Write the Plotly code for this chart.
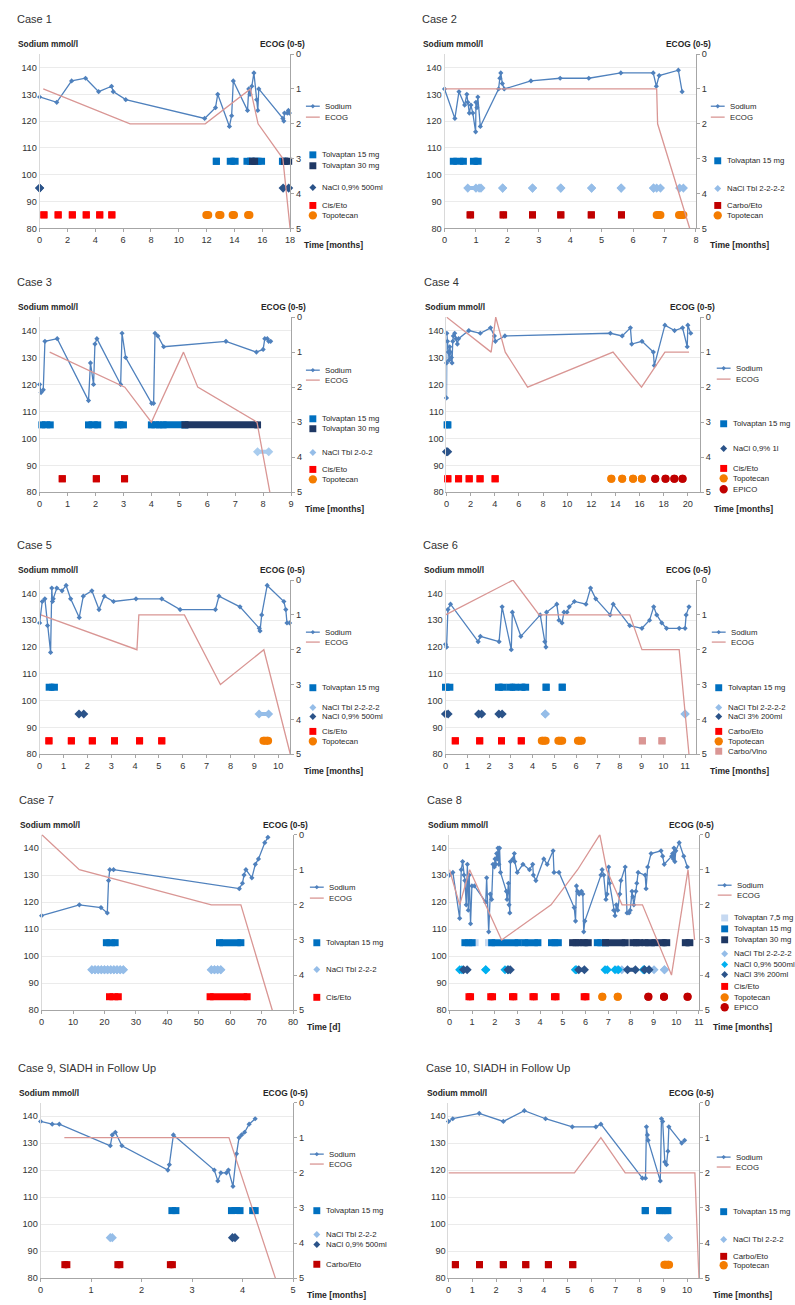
import plotly.graph_objects as go

W, H = 795, 1305
NFONT = "Liberation Sans, Arial, sans-serif"
TFONT = "Liberation Sans, Arial, sans-serif"

SOD = "#4F81BD"
ECO = "#D99694"
T15 = "#0070C0"
T30 = "#1F3864"
T75 = "#C6D9F1"
NTBL = "#95BDE8"
NDARK = "#2B5389"
N09C = "#00B0F0"
CIS = "#FF0000"
CARBO = "#C00000"
TOPO = "#F47C00"
EPICO = "#C00000"
VINO = "#DA9694"

# ---------------- Case 1 ----------------
c1_t = [0, 1.23, 2.3, 3.3, 4.24, 5.17, 5.29, 6.19, 11.86, 12.64, 12.8, 13.64, 13.8, 13.92, 14.94, 15.03, 15.12,
        15.25, 15.4, 15.6, 15.68, 15.75, 17.48, 17.55, 17.6, 17.8, 17.88, 17.95]
c1_na = [129, 127, 135, 136, 131, 133, 131, 128, 121, 125, 130, 118, 122, 135, 124, 132, 130,
         133, 138, 128, 124, 132, 121, 120, 123, 123, 124, 123]
c1_et = [0.26, 6.5, 11.9, 15.15, 15.7, 17.48, 18.0]
c1_ecog = [1, 2, 2, 1, 2, 3, 5]
c1_tolv15 = [(12.7, 12.7), (13.7, 14.05), (14.9, 15.2), (15.55, 15.95), (17.45, 17.5)]
c1_tolv30 = [(15.3, 15.45), (17.6, 17.9)]
c1_nacl09 = [(0, 0), (17.5, 17.9)]
c1_ciseto = [(0.31, 0.31), (1.33, 1.33), (2.35, 2.35), (3.35, 3.35), (4.32, 4.32), (5.19, 5.19)]
c1_topo = [(11.98, 12.12), (12.9, 13.0), (13.87, 13.97), (14.98, 15.08)]

# ---------------- Case 2 ----------------
c2_t = [0, 0.33, 0.46, 0.64, 0.71, 0.74, 0.79, 0.84, 0.9, 0.99, 1.0, 1.03, 1.06, 1.14, 1.72, 1.76, 1.79, 1.84,
        1.9, 2.75, 3.68, 4.59, 5.61, 6.64, 6.74, 6.83, 7.44, 7.56]
c2_na = [132, 121, 131, 126, 130, 127, 123, 126, 123, 116, 127, 125, 129, 118, 132, 136, 138, 134,
         132, 135, 136, 136, 138, 138, 133, 137, 139, 131]
c2_et = [0, 6.75, 6.78, 7.8]
c2_ecog = [1, 1, 2, 5]
c2_tolv15 = [(0.28, 0.6), (0.92, 1.07)]
c2_nacltbl = [(0.74, 1.0), (1.1, 1.16), (1.85, 1.85), (2.8, 2.8), (3.7, 3.7), (4.68, 4.68), (5.62, 5.62),
              (6.65, 6.65), (6.75, 6.87), (7.48, 7.6)]
c2_carboeto = [(0.81, 0.83), (1.86, 1.88), (2.8, 2.8), (3.7, 3.7), (4.67, 4.67), (5.63, 5.63)]
c2_topo = [(6.75, 6.87), (7.46, 7.6)]

# ---------------- Case 3 ----------------
c3_t = [0, 0.05, 0.13, 0.19, 0.63, 1.75, 1.82, 1.93, 1.98, 2.05, 2.9, 2.95, 3.08, 4.01, 4.08, 4.13, 4.23, 4.44,
        6.67, 7.76, 8.0, 8.06, 8.15, 8.2, 8.27]
c3_na = [120, 117, 118, 136, 137, 114, 128, 120, 135, 137, 120, 139, 130, 113, 113, 139, 138, 134,
         136, 132, 133, 137, 137, 136, 136]
c3_et = [0.36, 3.05, 4.0, 5.15, 5.66, 7.78, 8.24]
c3_ecog = [1, 2, 3, 1, 2, 3, 5]
c3_tolv15 = [(0.08, 0.38), (1.75, 2.08), (2.8, 3.0), (4.0, 4.28), (4.42, 5.2)]
c3_tolv30 = [(5.2, 7.8)]
c3_nacltbl = [(7.8, 8.2)]
c3_ciseto = [(0.81, 0.81), (2.03, 2.03), (3.04, 3.04)]

# ---------------- Case 4 ----------------
c4_t = [0, 0.01, 0.03, 0.08, 0.16, 0.22, 0.27, 0.33, 0.41, 0.46, 0.52, 0.57, 0.68, 0.79, 0.9, 1.0, 1.85, 2.8,
        3.65, 3.97, 4.05, 4.84, 13.58, 14.56, 15.24, 15.35, 16.2, 17.14, 17.22, 18.1, 18.9, 19.56, 19.95, 20.0, 20.24]
c4_na = [115, 128, 139, 136, 132, 129, 134, 132, 130, 128, 136, 138, 139, 137, 135, 137, 140, 139,
         141, 138, 136, 138, 139, 138, 141, 135, 136, 132, 127, 142, 140, 141, 134, 142, 139]
c4_et = [0, 3.7, 4.08, 4.87, 6.72, 13.8, 16.16, 18.1, 20.1]
c4_ecog = [0, 1, 0, 1, 2, 1, 2, 1, 1]
c4_tolv15 = [(0.05, 0.12)]
c4_nacl1l = [(0, 0.1)]
c4_ciseto = [(0.11, 0.11), (1.0, 1.0), (1.88, 1.88), (2.78, 2.78), (4.03, 4.03)]
c4_topo = [(13.66, 13.66), (14.56, 14.56), (15.46, 15.46), (16.19, 16.19)]
c4_epico = [(17.3, 17.3), (18.15, 18.15), (18.88, 18.88), (19.56, 19.56)]

# ---------------- Case 5 ----------------
c5_t = [0, 0.11, 0.22, 0.33, 0.46, 0.51, 0.54, 0.57, 0.72, 0.94, 1.11, 1.3, 1.66, 1.83, 2.19, 2.49, 2.71, 3.1,
        4.04, 5.12, 5.89, 7.37, 7.52, 8.4, 9.21, 9.24, 9.31, 9.54, 10.24, 10.32, 10.37, 10.48]
c5_na = [129, 137, 138, 128, 118, 142, 137, 138, 142, 141, 143, 138, 131, 139, 141, 134, 139, 137,
         138, 138, 134, 134, 139, 135, 127, 126, 132, 143, 137, 134, 129, 129]
c5_et = [0.05, 4.08, 4.16, 6.07, 7.58, 9.4, 10.51]
c5_ecog = [1, 2, 1, 1, 3, 2, 5]
c5_tolv15 = [(0.4, 0.62)]
c5_nacltbl = [(9.2, 9.6)]
c5_nacl09 = [(1.65, 1.85)]
c5_ciseto = [(0.39, 0.39), (1.33, 1.33), (2.21, 2.21), (3.14, 3.14), (4.19, 4.19), (5.12, 5.12)]
c5_topo = [(9.38, 9.58)]

# ---------------- Case 6 ----------------
c6_t = [0, 0.05, 0.11, 0.23, 1.5, 1.6, 2.46, 2.6, 3.02, 3.07, 3.46, 4.35, 4.56, 4.61, 4.64, 5.11, 5.21, 5.35,
        5.44, 5.58, 5.68, 5.92, 6.45, 6.66, 6.9, 7.56, 7.7, 8.46, 9.02, 9.37, 9.56, 9.7, 9.93, 10.15, 10.73,
        11.0, 11.05, 11.18]
c6_na = [121, 120, 134, 136, 122, 124, 122, 135, 119, 133, 124, 132, 122, 120, 133, 136, 130, 129,
         133, 133, 135, 137, 136, 142, 138, 132, 136, 128, 127, 130, 135, 132, 129, 127, 127,
         127, 132, 135]
c6_et = [0, 3.1, 4.3, 8.46, 9.02, 10.73, 11.18]
c6_ecog = [1, 0, 1, 1, 2, 2, 5]
c6_tolv15 = [(0, 0.2), (2.43, 2.64), (2.95, 3.2), (3.48, 3.68), (4.62, 4.62), (5.36, 5.36)]
c6_nacltbl = [(4.58, 4.58), (11.0, 11.0)]
c6_nacl3 = [(0, 0.12), (1.52, 1.66), (2.45, 2.6)]
c6_carboeto = [(0.45, 0.45), (1.57, 1.57), (2.57, 2.57), (3.48, 3.48)]
c6_topo = [(4.42, 4.6), (5.18, 5.36), (6.08, 6.26)]
c6_carbovino = [(9.04, 9.04), (9.94, 9.94)]

# ---------------- Case 7 (days) ----------------
c7_t = [0, 12, 18.9, 20.9, 21.3, 21.7, 22.9, 62.9, 63.9, 64.4, 65.0, 66.9, 68.0, 69.0, 71.0, 72.0]
c7_na = [115, 119, 118, 116, 128, 132, 132, 125, 127, 130, 132, 129, 134, 136, 142, 144]
c7_et = [0, 12, 54, 63.4, 73.4]
c7_ecog = [0, 1, 2, 2, 5]
c7_tolv15 = [(20.6, 23.4), (56.6, 63.4)]
c7_nacl_days = [16, 17, 18, 19, 20, 21, 22, 23, 24, 25, 26, 54, 55, 56, 57]
c7_ciseto = [(21.6, 24.4), (53.6, 65.4)]

# ---------------- Case 8 ----------------
c8_t = [0, 0.15, 0.45, 0.52, 0.58, 0.64, 0.68, 0.74, 0.79, 0.83,
        0.87, 0.93, 0.99, 1.1, 1.6, 1.64, 1.73, 1.8, 1.86, 1.92,
        1.98, 2.01, 2.04, 2.08, 2.11, 2.14, 2.18, 2.21, 2.25, 2.51,
        2.54, 2.6, 2.63, 2.66, 2.69, 2.8, 2.86, 2.88, 2.99, 3.24,
        3.53, 3.67, 3.7, 3.81, 4.16, 4.31, 4.57, 4.61, 4.83, 5.5,
        5.56, 5.6, 5.65, 5.72, 5.82, 5.88, 5.92, 5.97, 6.68, 6.73,
        6.8, 6.9, 6.95, 7.02, 7.06, 7.24, 7.3, 7.36, 7.42, 7.51,
        7.56, 7.75, 7.83, 7.92, 7.97, 8.05, 8.09, 8.13, 8.22, 8.26,
        8.32, 8.63, 8.67, 8.74, 8.89, 9.33, 9.4, 9.47, 9.8, 9.84,
        9.87, 9.9, 9.94, 9.98, 10.13, 10.33, 10.49]
c8_na = [130, 131, 114, 132, 135, 130, 128, 119, 134, 117,
         130, 112, 126, 126, 120, 129, 109, 123, 121, 134,
         133, 136, 134, 138, 136, 140, 134, 140, 131, 124,
         121, 127, 119, 116, 135, 136, 138, 135, 131, 134,
         132, 134, 130, 128, 136, 134, 139, 131, 131, 118,
         113, 126, 124, 123, 124, 123, 109, 113, 130, 132,
         130, 121, 123, 133, 127, 117, 115, 119, 117, 123,
         128, 133, 116, 116, 117, 124, 122, 119, 124, 127,
         131, 130, 125, 133, 138, 139, 137, 134, 137, 138,
         136, 140, 135, 139, 142, 137, 133]
c8_et = [0, 0.45, 0.89, 2.3, 4.48, 5.65, 6.63, 6.93, 7.61, 8.51, 9.79, 10.52, 10.81]
c8_ecog = [1, 2, 1, 3, 2, 1, 0, 1, 2, 2, 4, 1, 3]
c8_tolv75 = [(1.0, 1.13), (1.72, 1.86), (8.85, 8.92)]
c8_tolv15 = [(0.68, 1.0), (1.86, 3.03), (3.32, 3.9), (4.5, 4.8), (6.52, 6.88)]
c8_tolv30 = [(5.43, 5.72), (5.9, 6.12), (6.88, 7.75), (8.09, 8.38), (8.62, 9.06), (9.36, 9.58), (10.4, 10.6)]
c8_nacltbl = [(7.4, 7.6), (8.8, 9.02), (9.48, 9.48)]
c8_nacl09 = [(0.45, 0.55), (1.6, 1.6), (2.45, 2.58), (5.55, 5.6), (6.86, 6.96), (7.3, 7.45), (8.55, 8.6)]
c8_nacl3 = [(0.62, 0.78), (2.58, 2.68), (5.7, 5.95), (7.85, 8.2), (8.6, 8.8)]
c8_ciseto = [(0.86, 0.93), (1.82, 1.9), (2.78, 2.84), (3.68, 3.74), (4.63, 4.7), (5.94, 6.02)]
c8_topo = [(6.74, 6.74), (7.42, 7.42)]
c8_epico = [(8.77, 8.77), (9.46, 9.46), (10.5, 10.5)]

# ---------------- Case 9 ----------------
c9_t = [0, 0.23, 0.37, 1.38, 1.42, 1.48, 1.61, 2.52, 2.55, 2.63, 3.44, 3.51, 3.57, 3.68, 3.72, 3.81, 3.88,
        3.93, 3.98, 4.04, 4.13, 4.25]
c9_na = [138, 137, 137, 129, 133, 134, 129, 120, 122, 133, 120, 116, 119, 119, 120, 114, 126,
         132, 133, 134, 137, 139]
c9_et = [0.47, 3.73, 4.65]
c9_ecog = [1, 1, 5]
c9_tolv15 = [(2.6, 2.68), (3.78, 3.95), (4.2, 4.25)]
c9_nacltbl = [(1.38, 1.42)]
c9_nacl09 = [(3.8, 3.85)]
c9_carboeto = [(0.48, 0.52), (1.53, 1.57), (2.57, 2.61)]

# ---------------- Case 10 ----------------
c10_t = [0, 0.18, 1.29, 2.3, 3.18, 4.07, 5.19, 6.18, 6.39, 8.13, 8.26, 8.3, 8.34, 8.37, 8.88, 8.93, 8.98,
         9.07, 9.14, 9.2, 9.24, 9.78, 9.9]
c10_na = [138, 139, 141, 138, 142, 139, 136, 136, 137, 117, 117, 136, 133, 131, 116, 139, 138,
          123, 122, 127, 136, 130, 131]
c10_et = [0, 5.28, 6.39, 7.41, 10.33, 10.5]
c10_ecog = [2, 2, 1, 2, 2, 5]
c10_tolv15 = [(8.25, 8.25), (8.85, 8.95), (9.12, 9.2)]
c10_nacltbl = [(9.22, 9.22)]
c10_carboeto = [(0.29, 0.29), (1.3, 1.3), (2.3, 2.3), (3.24, 3.24), (4.19, 4.19), (5.21, 5.21)]
c10_topo = [(9.05, 9.25)]

TOLV, NACL, CHEMO = 105, 95, 85

cases = [
    dict(title="Case 1", t=c1_t, na=c1_na, et=c1_et, e=c1_ecog, xr=[0, 18], xt=list(range(0, 19, 2)),
         xl="Time [months]", box=(37, 290, 49.5, 225), lx=313,
         treat=[(c1_tolv15, TOLV, "sq", T15), (c1_tolv30, TOLV, "sq", T30), (c1_nacl09, NACL, "di", NDARK),
                (c1_ciseto, CHEMO, "sq", CIS), (c1_topo, CHEMO, "ci", TOPO)],
         leg=[("sodium", "Sodium", None, 102), ("ecog", "ECOG", None, 113),
              ("sq", "Tolvaptan 15 mg", T15, 151), ("sq", "Tolvaptan 30 mg", T30, 162),
              ("di", "NaCl 0,9% 500ml", NDARK, 184), ("sq", "Cis/Eto", CIS, 202), ("ci", "Topotecan", TOPO, 212)]),
    dict(title="Case 2", t=c2_t, na=c2_na, et=c2_et, e=c2_ecog, xr=[0, 8], xt=list(range(0, 9)),
         xl="Time [months]", box=(446, 700, 49.5, 225), lx=722,
         treat=[(c2_tolv15, TOLV, "sq", T15), (c2_nacltbl, NACL, "di", NTBL),
                (c2_carboeto, CHEMO, "sq", CARBO), (c2_topo, CHEMO, "ci", TOPO)],
         leg=[("sodium", "Sodium", None, 102), ("ecog", "ECOG", None, 113),
              ("sq", "Tolvaptan 15 mg", T15, 157), ("di", "NaCl Tbl 2-2-2-2", NTBL, 185),
              ("sq", "Carbo/Eto", CARBO, 202), ("ci", "Topotecan", TOPO, 212)]),
    dict(title="Case 3", t=c3_t, na=c3_na, et=c3_et, e=c3_ecog, xr=[0, 9], xt=list(range(0, 10)),
         xl="Time [months]", box=(37, 291, 314.5, 491), lx=313,
         treat=[(c3_tolv15, TOLV, "sq", T15), (c3_tolv30, TOLV, "sq", T30), (c3_nacltbl, NACL, "di", "#A9CCEE"),
                (c3_ciseto, CHEMO, "sq", "#D00000")],
         leg=[("sodium", "Sodium", None, 368), ("ecog", "ECOG", None, 378),
              ("sq", "Tolvaptan 15 mg", T15, 417), ("sq", "Tolvaptan 30 mg", T30, 427),
              ("di", "NaCl Tbl 2-0-2", NTBL, 451), ("sq", "Cis/Eto", CIS, 468), ("ci", "Topotecan", TOPO, 478)]),
    dict(title="Case 4", t=c4_t, na=c4_na, et=c4_et, e=c4_ecog, xr=[0, 21], xt=list(range(0, 21, 2)),
         xl="Time [months]", box=(448, 704, 314.5, 491), lx=728,
         treat=[(c4_tolv15, TOLV, "sq", T15), (c4_nacl1l, NACL, "di", NDARK),
                (c4_ciseto, CHEMO, "sq", CIS), (c4_topo, CHEMO, "ci", TOPO), (c4_epico, CHEMO, "ci", EPICO)],
         leg=[("sodium", "Sodium", None, 366), ("ecog", "ECOG", None, 377),
              ("sq", "Tolvaptan 15 mg", T15, 422), ("di", "NaCl 0,9% 1l", NDARK, 447),
              ("sq", "Cis/Eto", CIS, 467), ("ci", "Topotecan", TOPO, 477), ("ci", "EPICO", EPICO, 488)]),
    dict(title="Case 5", t=c5_t, na=c5_na, et=c5_et, e=c5_ecog, xr=[0, 10.5], xt=list(range(0, 11)),
         xl="Time [months]", box=(37, 290, 579.5, 755), lx=313,
         treat=[(c5_tolv15, TOLV, "sq", T15), (c5_nacltbl, NACL, "di", NTBL), (c5_nacl09, NACL, "di", NDARK),
                (c5_ciseto, CHEMO, "sq", CIS), (c5_topo, CHEMO, "ci", TOPO)],
         leg=[("sodium", "Sodium", None, 632), ("ecog", "ECOG", None, 642),
              ("sq", "Tolvaptan 15 mg", T15, 688), ("di", "NaCl Tbl 2-2-2-2", NTBL, 708),
              ("di", "NaCl 0,9% 500ml", NDARK, 717), ("sq", "Cis/Eto", CIS, 732), ("ci", "Topotecan", TOPO, 742)]),
    dict(title="Case 6", t=c6_t, na=c6_na, et=c6_et, e=c6_ecog, xr=[0, 11.5], xt=list(range(0, 12)),
         xl="Time [months]", box=(447, 700, 579.5, 755), lx=723,
         treat=[(c6_tolv15, TOLV, "sq", T15), (c6_nacltbl, NACL, "di", NTBL), (c6_nacl3, NACL, "di", NDARK),
                (c6_carboeto, CHEMO, "sq", CIS), (c6_topo, CHEMO, "ci", TOPO), (c6_carbovino, CHEMO, "sq", VINO)],
         leg=[("sodium", "Sodium", None, 632), ("ecog", "ECOG", None, 642),
              ("sq", "Tolvaptan 15 mg", T15, 688), ("di", "NaCl Tbl 2-2-2-2", NTBL, 708),
              ("di", "NaCl 3% 200ml", NDARK, 717), ("sq", "Carbo/Eto", CIS, 732), ("ci", "Topotecan", TOPO, 742),
              ("sq", "Carbo/Vino", VINO, 752)]),
    dict(title="Case 7", t=c7_t, na=c7_na, et=c7_et, e=c7_ecog, xr=[0, 80], xt=list(range(0, 81, 10)),
         xl="Time [d]", box=(39, 293, 836, 1013), lx=317,
         treat=[(c7_tolv15, TOLV, "sq", T15), ([(d, d) for d in c7_nacl_days], NACL, "di", NTBL),
                (c7_ciseto, CHEMO, "sq", CIS)],
         leg=[("sodium", "Sodium", None, 889), ("ecog", "ECOG", None, 900),
              ("sq", "Tolvaptan 15 mg", T15, 945), ("di", "NaCl Tbl 2-2-2", NTBL, 972),
              ("sq", "Cis/Eto", CIS, 1000)]),
    dict(title="Case 8", t=c8_t, na=c8_na, et=c8_et, e=c8_ecog, xr=[0, 11], xt=list(range(0, 12)),
         xl="Time [months]", box=(451, 703, 836, 1013), lx=729,
         treat=[(c8_tolv75, TOLV, "sq", T75), (c8_tolv15, TOLV, "sq", T15), (c8_tolv30, TOLV, "sq", T30),
                (c8_nacltbl, NACL, "di", NTBL), (c8_nacl09, NACL, "di", N09C), (c8_nacl3, NACL, "di", NDARK),
                (c8_ciseto, CHEMO, "sq", CIS), (c8_topo, CHEMO, "ci", TOPO), (c8_epico, CHEMO, "ci", EPICO)],
         leg=[("sodium", "Sodium", None, 887), ("ecog", "ECOG", None, 897),
              ("sq", "Tolvaptan 7,5 mg", T75, 920), ("sq", "Tolvaptan 15 mg", T15, 931),
              ("sq", "Tolvaptan 30 mg", T30, 942), ("di", "NaCl Tbl 2-2-2-2", NTBL, 956),
              ("di", "NaCl 0,9% 500ml", N09C, 967), ("di", "NaCl 3% 200ml", NDARK, 977),
              ("sq", "Cis/Eto", CIS, 989), ("ci", "Topotecan", TOPO, 1000), ("ci", "EPICO", EPICO, 1010)]),
    dict(title="Case 9, SIADH in Follow Up", t=c9_t, na=c9_na, et=c9_et, e=c9_ecog, xr=[0, 5],
         xt=list(range(0, 6)), xl="Time [months]", box=(38, 293, 1106, 1283), lx=317,
         treat=[(c9_tolv15, TOLV, "sq", T15), (c9_nacltbl, NACL, "di", NTBL), (c9_nacl09, NACL, "di", NDARK),
                (c9_carboeto, CHEMO, "sq", CARBO)],
         leg=[("sodium", "Sodium", None, 1158), ("ecog", "ECOG", None, 1168),
              ("sq", "Tolvaptan 15 mg", T15, 1215), ("di", "NaCl Tbl 2-2-2", NTBL, 1239),
              ("di", "NaCl 0,9% 500ml", NDARK, 1249), ("sq", "Carbo/Eto", CARBO, 1269)]),
    dict(title="Case 10, SIADH in Follow Up", t=c10_t, na=c10_na, et=c10_et, e=c10_ecog, xr=[0, 10.5],
         xt=list(range(0, 11)), xl="Time [months]", box=(450, 703, 1106, 1283), lx=728,
         treat=[(c10_tolv15, TOLV, "sq", T15), (c10_nacltbl, NACL, "di", NTBL),
                (c10_carboeto, CHEMO, "sq", CARBO), (c10_topo, CHEMO, "ci", TOPO)],
         leg=[("sodium", "Sodium", None, 1161), ("ecog", "ECOG", None, 1171),
              ("sq", "Tolvaptan 15 mg", T15, 1216), ("di", "NaCl Tbl 2-2-2", NTBL, 1244),
              ("sq", "Carbo/Eto", CARBO, 1261), ("ci", "Topotecan", TOPO, 1270)]),
]

SYM = {"sq": ("square", 7, 7), "ci": ("circle", 8, 8), "di": ("diamond", 7, 4)}
LEGSIZE = 7.8


def PX(x):
    return x / W


def PY(y):
    return 1 - y / H


fig = go.Figure()
layout = dict(width=W, height=H, margin=dict(l=0, r=0, t=0, b=0), paper_bgcolor="white",
              plot_bgcolor="white", showlegend=False)
annotations, shapes = [], []


def ann(text, x, y, xanchor="left", size=9.0, family=NFONT, color="#262626"):
    annotations.append(dict(text=text, x=PX(x), y=PY(y), xref="paper", yref="paper",
                            xanchor=xanchor, yanchor="middle", showarrow=False,
                            font=dict(family=family, size=size, color=color)))


def diamond_path(cx, cy, r):
    return (f"M {PX(cx)},{PY(cy - r)} L {PX(cx + r)},{PY(cy)} L {PX(cx)},{PY(cy + r)} "
            f"L {PX(cx - r)},{PY(cy)} Z")


for i, c in enumerate(cases, 1):
    xa = "x" if i == 1 else f"x{i}"
    L, R = 2 * i - 1, 2 * i
    yl = "y" if L == 1 else f"y{L}"
    yr = f"y{R}"
    x0, x1, top, bot = c["box"]

    fig.add_trace(go.Scatter(x=c["t"], y=c["na"], xaxis=xa, yaxis=yl, mode="lines+markers",
                             line=dict(color=SOD, width=1.3), marker=dict(symbol="diamond", size=4, color=SOD),
                             cliponaxis=False, hoverinfo="skip"))
    for iv, lvl, kind, col in c["treat"]:
        sym, ms, lw = SYM[kind]
        xs, ys = [], []
        for s, e in iv:
            xs += [s, e, None]
            ys += [lvl, lvl, None]
        fig.add_trace(go.Scatter(x=xs, y=ys, xaxis=xa, yaxis=yl, mode="lines+markers",
                                 line=dict(color=col, width=lw), marker=dict(symbol=sym, size=ms, color=col),
                                 cliponaxis=False, hoverinfo="skip"))
    fig.add_trace(go.Scatter(x=c["et"], y=c["e"], xaxis=xa, yaxis=yr, mode="lines",
                             line=dict(color=ECO, width=1.3), cliponaxis=False, hoverinfo="skip"))

    tf = dict(family=NFONT, size=9.2, color="#333333")
    layout["xaxis" if i == 1 else f"xaxis{i}"] = dict(
        domain=[PX(x0), PX(x1)], anchor=yl, range=c["xr"], tickvals=c["xt"], showline=True,
        linecolor="#A6A6A6", linewidth=1, ticks="outside", ticklen=3, tickcolor="#A6A6A6",
        showgrid=False, zeroline=False, tickfont=tf)
    layout["yaxis" if L == 1 else f"yaxis{L}"] = dict(
        domain=[PY(bot), PY(top)], anchor=xa, range=[80, 145], tickvals=list(range(80, 141, 10)),
        showgrid=True, gridcolor="#EBEBEB", gridwidth=1, showline=True, linecolor="#D9D9D9",
        zeroline=False, ticks="", tickfont=tf)
    layout[f"yaxis{R}"] = dict(
        overlaying=yl, side="right", anchor=xa, range=[5, 0], tickvals=[0, 1, 2, 3, 4, 5],
        showline=True, linecolor="#A6A6A6", ticks="outside", ticklen=3, tickcolor="#A6A6A6",
        showgrid=False, zeroline=False, tickfont=tf)

    ann(c["title"], x0 - 25, top - 35, size=11, family=TFONT, color="#333333")
    ann("<b>Sodium mmol/l</b>", x0 - 24, top - 10, size=8.4)
    ann("<b>ECOG (0-5)</b>", x1 + 17, top - 10, xanchor="right", size=8.4)
    ann("<b>" + c["xl"] + "</b>", x1 + 12, bot + 17, size=8.6)

    lx = c["lx"]
    for kind, label, col, y in c["leg"]:
        if kind in ("sodium", "ecog"):
            lc = SOD if kind == "sodium" else ECO
            shapes.append(dict(type="line", xref="paper", yref="paper", x0=PX(lx - 7), x1=PX(lx + 7),
                               y0=PY(y), y1=PY(y), line=dict(color=lc, width=1.3)))
            if kind == "sodium":
                shapes.append(dict(type="path", xref="paper", yref="paper", path=diamond_path(lx, y, 2.2),
                                   fillcolor=SOD, line=dict(width=0)))
            ann(label, lx + 10, y, size=LEGSIZE)
        else:
            if kind == "sq":
                s = 3.5
                shapes.append(dict(type="rect", xref="paper", yref="paper", x0=PX(lx - s), x1=PX(lx + s),
                                   y0=PY(y + s), y1=PY(y - s), fillcolor=col, line=dict(width=0)))
            elif kind == "ci":
                s = 4.2
                shapes.append(dict(type="circle", xref="paper", yref="paper", x0=PX(lx - s), x1=PX(lx + s),
                                   y0=PY(y + s), y1=PY(y - s), fillcolor=col, line=dict(width=0)))
            else:
                shapes.append(dict(type="path", xref="paper", yref="paper", path=diamond_path(lx, y, 3.5),
                                   fillcolor=col, line=dict(width=0)))
            ann(label, lx + 7, y, size=LEGSIZE)

layout["annotations"] = annotations
layout["shapes"] = shapes
fig.update_layout(**layout)
fig.write_html("out.html", config={"displayModeBar": False},
               post_script="document.body.style.margin='0';document.body.style.overflow='hidden';")
